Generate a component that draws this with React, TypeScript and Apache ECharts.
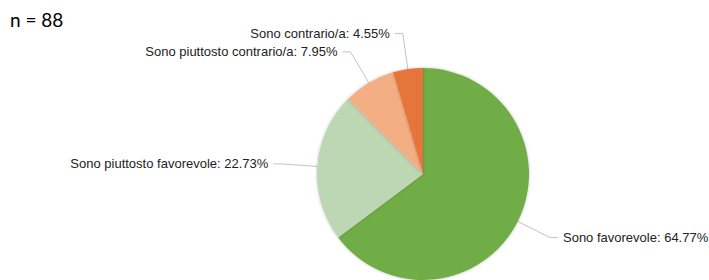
import React, { useEffect, useRef } from "react";
import * as echarts from "echarts";

const categories = [
  "Sono favorevole",
  "Sono piuttosto favorevole",
  "Sono piuttosto contrario/a",
  "Sono contrario/a",
];
const percentages = [64.77, 22.73, 7.95, 4.55];
const colors = ["#70AD47", "#BDD6B4", "#F4AE84", "#E6743A"];
const sampleLabel = "n = 88";

export default function App() {
  const ref = useRef<HTMLDivElement>(null);
  useEffect(() => {
    document.body.style.margin = "0";
    const chart = echarts.init(ref.current!, null, { renderer: "svg" });
    chart.setOption({
      animation: false,
      graphic: [
        {
          type: "text",
          left: 10,
          top: 10,
          style: {
            text: sampleLabel,
            fontSize: 19,
            fontFamily: "Lato, sans-serif",
            fill: "#000",
          },
        },
      ],
      series: [
        {
          type: "pie",
          center: [423, 174],
          radius: 106,
          startAngle: 90,
          clockwise: true,
          data: categories.map((c, i) => ({
            name: c,
            value: percentages[i],
            itemStyle: { color: colors[i] },
          })),
          itemStyle: {
            borderWidth: 0,
            shadowBlur: 3,
            shadowColor: "rgba(0,0,0,0.25)",
          },
          label: {
            show: true,
            position: "outside",
            formatter: (p: any) => `${p.name}: ${p.value.toFixed(2)}%`,
            fontSize: 13,
            fontFamily: "Liberation Sans, Arial, sans-serif",
            color: "#222",
            overflow: "none",
            distanceToLabelLine: 5,
          },
          labelLine: {
            show: true,
            length: 36,
            length2: 8,
            lineStyle: { color: "#c4c4c4", width: 1 },
          },
          emphasis: { disabled: true },
        },
      ],
    });
    return () => chart.dispose();
  }, []);
  return <div ref={ref} style={{ width: 709, height: 280, position: "absolute", left: 0, top: 0 }} />;
}
